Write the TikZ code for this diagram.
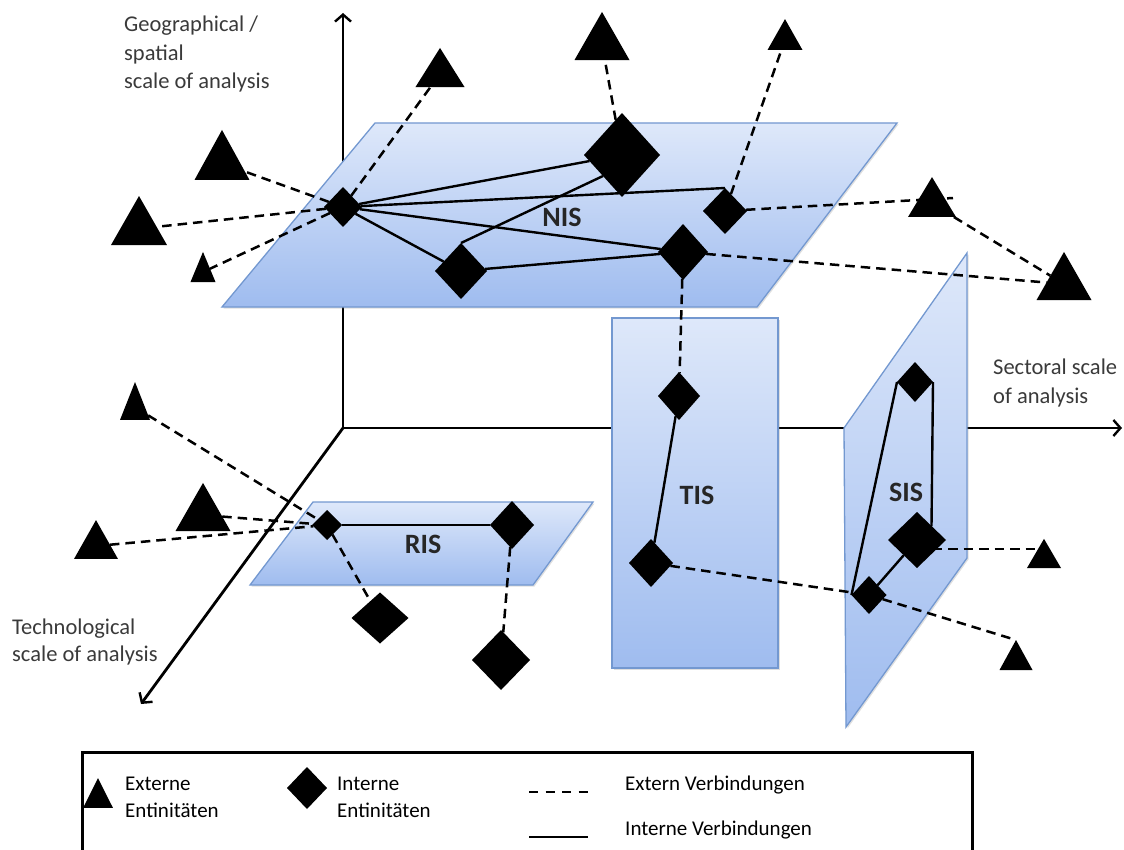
\documentclass[tikz,border=0pt]{standalone}
\usepackage{fontspec}
\setmainfont{Carlito}
\usetikzlibrary{shapes.geometric,arrows.meta,shadows}
\definecolor{planetop}{HTML}{DEE8FA}
\definecolor{planebot}{HTML}{9FBCEF}
\definecolor{planeedge}{HTML}{7398D0}
\definecolor{labgrey}{HTML}{3A3A3A}
\pgfdeclarelayer{planes}
\pgfdeclarelayer{links}
\pgfsetlayers{planes,links,main}
\begin{document}
\begin{tikzpicture}[x=1pt,y=-1pt,
  plane/.style={draw=planeedge, line width=1.3pt, top color=planetop, bottom color=planebot,
    drop shadow={opacity=0.25, shadow xshift=1.5pt, shadow yshift=-1.5pt}},
  axisline/.style={line width=2.8pt, -{Straight Barb[length=7pt,width=16pt,line width=2.4pt]}},
  extline/.style={line width=2.5pt, dash pattern=on 9.5pt off 6pt},
  intline/.style={line width=2.4pt},
  ext/.style={regular polygon, regular polygon sides=3, fill=black, draw=none, inner sep=0pt, outer sep=0pt},
  intl/.style={diamond, fill=black, draw=none, inner sep=0pt, outer sep=0pt},
  syslab/.style={font=\fontsize{28}{30}\selectfont\bfseries, text=black!85, inner sep=0pt},
  axlab/.style={font=\fontsize{22.5}{28.5}\selectfont, text=labgrey, align=left, inner sep=0pt, anchor=north west},
  leglab/.style={font=\fontsize{21}{27}\selectfont, align=left, inner sep=0pt}
]
\useasboundingbox (0,0) rectangle (1124,850);

% ---------- axes and planes ----------
\coordinate (o) at (343,428);
\coordinate (zend) at (343,13);
\coordinate (xend) at (1122,428);
\coordinate (yend) at (141,704);
\begin{pgfonlayer}{planes}
  \draw[axisline] (o) -- (zend);
  \draw[axisline] (o) -- (xend);
  \draw[axisline] (o) -- (yend);
  % national
  \path[plane] (375,123) -- (897,123) -- (757,307) -- (222,307) -- cycle;
  % regional
  \path[plane] (313,502) -- (593,502) -- (533,585) -- (250,585) -- cycle;
  % technological
  \path[plane] (612,318) rectangle (778,668);
  % sectoral
  \path[plane] (844,428) -- (967,253) -- (967,558) -- (846,727) -- cycle;
\end{pgfonlayer}

% ---------- internal entities (diamonds) ----------
\node[intl, minimum width=38pt, minimum height=40pt] (n1) at (343,207) {};
\node[intl, minimum width=76pt, minimum height=84pt] (n2) at (622,155) {};
\node[intl, minimum width=44pt, minimum height=46pt] (n3) at (725,211) {};
\node[intl, minimum width=50pt, minimum height=56pt] (n4) at (683,252) {};
\node[intl, minimum width=52pt, minimum height=56pt] (n5) at (461,271) {};

\node[intl, minimum width=30pt, minimum height=30pt] (r1) at (327,525) {};
\node[intl, minimum width=44pt, minimum height=48pt] (r2) at (512,525) {};
\node[intl, minimum width=57pt, minimum height=51pt] (r3) at (380,618) {};
\node[intl, minimum width=58pt, minimum height=60pt] (r4) at (501,660) {};

\node[intl, minimum width=42pt, minimum height=48pt] (t1) at (679,396) {};
\node[intl, minimum width=44pt, minimum height=48pt] (t2) at (651,563) {};

\node[intl, minimum width=36pt, minimum height=40pt] (s1) at (915,382) {};
\node[intl, minimum width=58pt, minimum height=56pt] (s2) at (917,540) {};
\node[intl, minimum width=35pt, minimum height=38pt] (s3) at (869,595) {};

% ---------- external entities (triangles) ----------
\path (222,163.3) node[ext, minimum size=63.5pt, yscale=1.05] (e1) {};
\path (139,228.7) node[ext, minimum size=64.7pt, yscale=1.01] (e2) {};
\path (203,272)   node[ext, minimum size=28.9pt, yscale=1.39] (e3) {};
\path (440,74)    node[ext, minimum size=56.6pt, yscale=0.92] (e4) {};
\path (602,44)    node[ext, minimum size=63.5pt, yscale=1.01] (e5) {};
\path (785,39.7)  node[ext, minimum size=40.4pt, yscale=1.02] (e6) {};
\path (932,203.7) node[ext, minimum size=55.4pt, yscale=0.96] (e7) {};
\path (1064,284)  node[ext, minimum size=63.5pt, yscale=1.01] (e8) {};
\path (135,407.3) node[ext, minimum size=34.6pt, yscale=1.46] (e9) {};
\path (203,515)   node[ext, minimum size=63.5pt, yscale=1.01] (e10) {};
\path (96,546)    node[ext, minimum size=50.8pt, yscale=1.02] (e11) {};
\path (1044,558.3) node[ext, minimum size=39.3pt, yscale=0.99] (e12) {};
\path (1016,660)  node[ext, minimum size=38.1pt, yscale=1.05] (e13) {};
\coordinate (e7tail) at (953,198);

% ---------- system labels ----------
\node[syslab] (nislab) at (562,217) {NIS};
\node[syslab] (rislab) at (423,544) {RIS};
\node[syslab] (tislab) at (697,495) {TIS};
\node[syslab] (sislab) at (906,492) {SIS};

% ---------- axis labels ----------
\node[axlab] (geolab) at (124,16) {Geographical /\\spatial\\scale of analysis};
\node[axlab, font=\fontsize{22.5}{26.5}\selectfont] (techlab) at (12,619) {Technological\\scale of analysis};
\node[axlab] (seclab) at (993,359) {Sectoral scale\\of analysis};

% ---------- connections ----------
\begin{pgfonlayer}{links}
  % internal
  \draw[intline] (n1) -- (n2);
  \draw[intline] (n1) -- (n3.north);
  \draw[intline] (n1) -- (n4);
  \draw[intline] (n1) -- (n5);
  \draw[intline] (n5.north) -- (n2.south west);
  \draw[intline] (n5) -- (n4);
  \draw[intline] (r1) -- (r2);
  \draw[intline] (t1) -- (t2);
  \draw[intline] (s1.east) -- (s2.north east);
  \draw[intline] (s1.west) -- (s3.west);
  \draw[intline] (s3) -- (s2);
  % external
  \draw[extline] (n1) -- (e1);
  \draw[extline] (n1) -- (e2);
  \draw[extline] (n1) -- (e3);
  \draw[extline] (n1) -- (e4);
  \draw[extline] (n2) -- (e5);
  \draw[extline] (n3) -- (e6);
  \draw[extline] (n3) -- (e7tail);
  \draw[extline] (e7) -- (e8);
  \draw[extline] (n4) -- (e8);
  \draw[extline] (n4) -- (t1);
  \draw[extline] (e9) -- (r1);
  \draw[extline] (e10) -- (r1);
  \draw[extline] (e11) -- (r1);
  \draw[extline] (r1) -- (r3);
  \draw[extline] (r2) -- (r4);
  \draw[extline] (t2) -- (s3);
  \draw[extline] ([yshift=-9pt]s2.center) -- ([yshift=-9pt]s2.center -| e12.center);
  \draw[extline] (s3) -- (e13.corner 1);
\end{pgfonlayer}

% ---------- legend ----------
\coordinate (lb1) at (82,852);
\coordinate (lb2) at (82,752);
\coordinate (lb3) at (972,752);
\coordinate (lb4) at (972,852);
\draw[line width=3pt] (lb1) -- (lb2) -- (lb3) -- (lb4);
\path (98,798) node[ext, minimum size=34.6pt, yscale=1.15] (legext) {};
\node[intl, minimum width=40pt, minimum height=42pt] (legint) at (307,788) {};
\node[leglab, anchor=north west] (legexttxt) at (125,776.5) {Externe\\Entinitäten};
\node[leglab, anchor=north west] (leginttxt) at (337,776.5) {Interne\\Entinitäten};
\coordinate (ld1) at (529,792);
\coordinate (ld2) at (588,792);
\coordinate (ls1) at (529,837);
\coordinate (ls2) at (588,837);
\draw[line width=2.5pt, dash pattern=on 9pt off 7.5pt] (ld1) -- (ld2);
\draw[intline] (ls1) -- (ls2);
\node[leglab, anchor=base west] (legdash) at (625,790) {Extern Verbindungen};
\node[leglab, anchor=base west] (legsolid) at (625,835) {Interne Verbindungen};
\end{tikzpicture}
\end{document}
